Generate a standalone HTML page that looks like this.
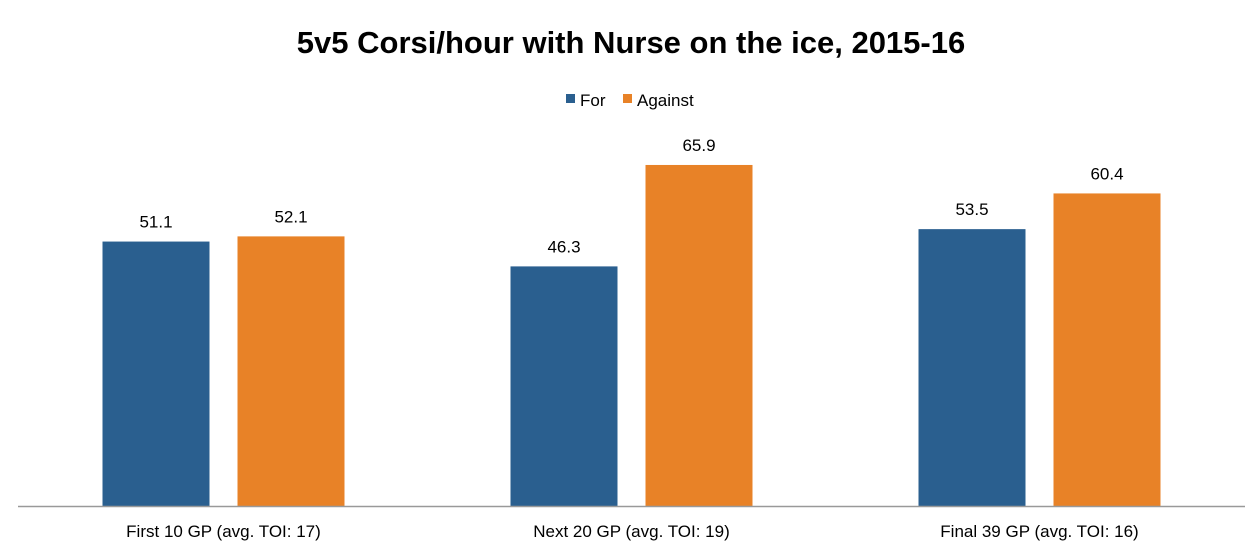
<!DOCTYPE html>
<html><head><meta charset="utf-8"><style>
body{margin:0;background:#fff;width:1260px;height:554px;overflow:hidden;font-family:"Liberation Sans",Arial,sans-serif}
</style></head><body>
<svg id="chart" width="1260" height="554" xmlns="http://www.w3.org/2000/svg" font-family="Liberation Sans, Arial, sans-serif">
<text x="631" y="53" text-anchor="middle" font-size="31" font-weight="bold" fill="#000">5v5 Corsi/hour with Nurse on the ice, 2015-16</text>
<g>
<rect x="566" y="94" width="9" height="9" fill="#2a5f8f"/>
<text x="580" y="106" font-size="17">For</text>
<rect x="623" y="94" width="9" height="9" fill="#e88227"/>
<text x="637" y="106" font-size="17">Against</text>
</g>
<g id="bars"></g>
<line x1="18" y1="506.5" x2="1245" y2="506.5" stroke="#999" stroke-width="1.5"/>
</svg>
<script>
const categories=["First 10 GP (avg. TOI: 17)","Next 20 GP (avg. TOI: 19)","Final 39 GP (avg. TOI: 16)"];
const forValues=[51.1,46.3,53.5];
const againstValues=[52.1,65.9,60.4];
const NS="http://www.w3.org/2000/svg";
const g=document.getElementById('bars');
const x0=19.5,groupW=408,baseY=506,yMax=80,plotTop=92;
const y=v=>baseY-(v/yMax)*(baseY-plotTop);
const barW=107,gap=28;
function add(tag,attrs,txt){const e=document.createElementNS(NS,tag);for(const k in attrs)e.setAttribute(k,attrs[k]);if(txt!==undefined)e.textContent=txt;g.appendChild(e);return e;}
categories.forEach((c,i)=>{
  const cx=x0+groupW*(i+0.5);
  const series=[[forValues[i],"#2a5f8f",cx-gap/2-barW,"for"],[againstValues[i],"#e88227",cx+gap/2,"against"]];
  series.forEach(([v,col,bx,s])=>{
    const r=add('rect',{x:bx,y:y(v),width:barW,height:baseY-y(v),fill:col});
    
    
    const t=add('text',{x:bx+barW/2,y:y(v)-14,'text-anchor':'middle','font-size':17,fill:'#000'},v.toFixed(1));
    
    
  });
  const l=add('text',{x:cx,y:537,'text-anchor':'middle','font-size':17,fill:'#000'},c);
  
  
});
</script>
</body></html>
